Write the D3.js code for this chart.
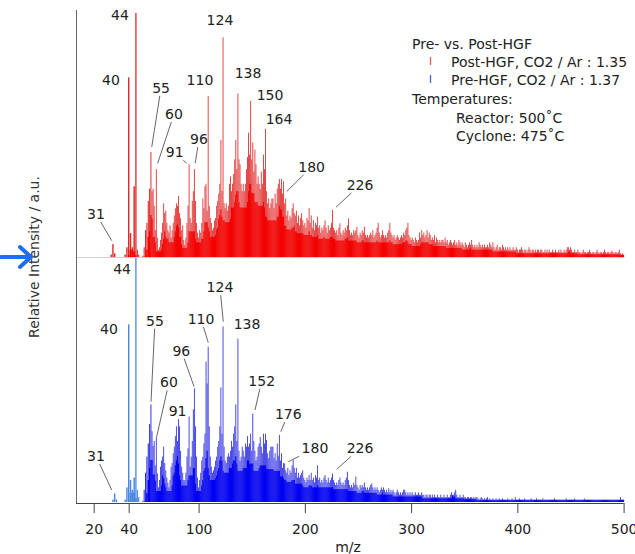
<!DOCTYPE html>
<html>
<head>
<meta charset="utf-8">
<script src="https://cdn.jsdelivr.net/npm/d3@7"></script>
<style>
  body { margin: 0; background: #fff; }
  svg { display: block; font-family: "DejaVu Sans", sans-serif; }
</style>
</head>
<body>
<div id="chart"></div>
<script>
// Post-HGF (top, red), intensity relative to m/z 44 = 100, one value per integer m/z
const postLowStart = 29;
const postLow = [0, 1, 5.3, 1.5, 0, 0, 0, 0, 0, 1, 4, 73.6, 9.8, 4, 29, 100, 3, 1, 0, 0, 0.5];
const postMidStart = 50;
const postMid = [
  4, 11, 14, 23, 28, 43, 27, 28, 21, 11, 36, 8, 3, 4, 7, 10, 14, 22, 18, 19,
  14, 11, 10, 13, 8, 11, 14, 17, 20, 22, 21, 25, 18, 16, 11, 13, 7, 5, 8, 14,
  21, 38, 16, 14, 23, 27, 36, 23, 14, 10, 8, 11, 10, 14, 24, 20, 29, 30, 19, 66,
  21, 16, 14, 11, 12, 15, 16, 21, 23, 26, 30, 48, 27, 90, 22, 20, 22, 19, 21, 30,
  33, 27, 30, 34, 40, 48, 36, 67, 40, 38, 30, 27, 30, 27, 30, 36, 41, 51, 42, 64,
  40, 47, 35, 44, 38, 30, 33, 30, 28, 35, 30, 42, 36, 52.5, 27, 22, 24, 20, 22, 24
];
const postHighStart = 170;
const postHigh = [
  24, 20, 26, 22, 28, 30, 32, 28, 32, 26, 31, 22, 24, 17, 19, 15, 17, 16, 20, 22,
  18, 17, 19, 14, 17, 13, 16, 18, 15, 13, 14, 12, 16, 15, 20, 14, 17, 12, 15, 11,
  14, 13, 16.5, 12, 13, 10, 12, 11, 13, 15, 12, 10, 13, 11, 12, 14, 19.3, 12, 11, 10,
  11, 9, 12, 13.8, 10, 9, 11, 10, 12, 11, 13, 15.8, 11, 9, 10, 9, 11, 10, 11, 12.4,
  9, 8, 10, 9, 11, 10, 12.4, 9, 8, 9, 8, 9, 10, 9, 11, 8, 9, 10, 12, 14,
  10, 8, 9, 11, 9, 8, 9, 8, 10, 11, 14, 10, 9, 8, 9, 7, 8, 9, 8, 7,
  8, 9, 8, 10, 9, 11, 12, 14, 9, 8, 7, 8, 7, 6, 8, 7, 6, 7, 10, 8,
  11, 9, 10, 8, 9, 11, 8, 10, 9, 7, 8, 7, 9, 6, 8, 7, 6, 7, 6, 7
];
const postTailStart = 330;
const postTail = [
  7, 6, 8, 6, 7, 5, 6, 7, 6, 5, 6, 7, 5, 6, 5, 7, 6, 5, 6, 5, 4, 6, 5, 4, 5, 6, 5, 7, 5, 4,
  5, 4, 5, 4, 6, 5, 4, 5, 4, 5, 4, 4, 5, 4, 6, 5, 4, 6, 4, 3, 4, 5, 3, 4, 4, 3, 5, 4, 3, 4,
  3, 4, 3, 4, 3, 3, 4, 3, 3, 4, 3, 2, 3, 3, 4, 3, 2, 3, 3, 2, 3, 4, 3, 2, 3, 3, 2, 3, 2, 3,
  3, 2, 3, 3, 2, 2, 3, 2, 3, 2, 3, 2, 2, 3, 2, 2, 3, 2, 2, 3, 2, 3, 2, 2, 3, 2, 3, 4, 4, 3,
  4, 3, 2, 2, 3, 2, 2, 3, 2, 2, 1.5, 2, 3, 2, 2, 1.5, 2, 2, 3, 2, 1.5, 2, 2, 1.5, 2, 3, 2, 1.5, 2, 2,
  1.5, 2, 3, 2, 1.5, 2, 2, 1.5, 2, 2.5, 2, 1.5, 2, 2, 1.5, 2, 3, 1.5, 1, 1.5, 1
];

// Pre-HGF (bottom, blue), same relative scale
const preLowStart = 29;
const preLow = [0, 0, 1, 3.5, 1, 0, 0, 0, 0, 1, 6, 72.8, 9, 5, 10, 110, 5, 2, 0, 0, 0.5];
const preMidStart = 50;
const preMid = [
  5, 12, 18.6, 24, 32, 40, 29, 23, 25, 15, 26.8, 11.7, 6, 9, 14.5, 17, 18.6, 22.7, 16, 13,
  10, 8, 6, 9, 14.5, 16, 20, 22.7, 27, 31, 25, 34, 31, 21, 14.5, 12, 9, 9, 12, 18.6,
  22, 35, 14.5, 18.6, 25, 38, 46.6, 31, 18.6, 10, 6, 9, 12, 17, 18.6, 24, 28, 57.5, 48.6, 63.7,
  31, 18.6, 14.5, 12, 13, 14.5, 17, 18.6, 22.7, 25, 31, 47, 28, 72, 22.7, 17, 16, 18.6, 20, 18.6,
  21, 25, 22.7, 28, 31, 40, 25, 67, 21, 17, 18.6, 22.7, 21, 18.6, 24, 22.7, 27, 22.7, 24, 28,
  21, 36.3, 25, 21, 17, 18.6, 22.7, 24, 26.6, 22.7, 20, 28, 24, 28, 25.4, 20, 18, 21, 22.7, 22.7
];
const preHighStart = 170;
const preHigh = [
  22.7, 18, 20, 17, 24, 19, 27.5, 17, 20, 14, 16, 15.8, 13, 12, 14, 11, 13, 12, 15, 17.2,
  14, 12, 14, 10, 12, 10, 11, 12, 13, 10, 9, 8, 10, 9, 11, 9, 12, 9, 10, 8,
  11, 10, 15, 9, 10, 8, 9, 8, 10, 11, 9, 8, 10, 8, 9, 10, 11.7, 9, 8, 7,
  8, 7, 9, 10, 8, 7, 8, 7, 9, 10, 12.4, 9, 7, 6, 7, 6, 8, 7, 10.4, 7,
  6, 5, 7, 6, 7, 6, 8, 6, 5, 6, 5, 6, 7, 7.6, 6, 5, 6, 5, 6, 5,
  4, 5, 6, 5, 6, 5, 4, 5, 4, 5.6, 4, 5, 4, 5, 4, 3, 4, 5, 4, 3,
  4, 3, 4, 5, 5, 4, 3, 4, 3, 4, 3, 4, 3, 3, 4, 3, 3, 4, 3, 3,
  4, 3, 3, 2, 3, 3, 2, 3, 3, 2, 3, 2, 3, 2, 2, 3, 2, 2, 3, 2
];
const preTailStart = 330;
const preTail = [
  2, 3, 2, 2, 3, 2, 2, 3, 4, 3, 3, 4, 5, 3, 2, 2, 3, 2, 2, 3, 2, 2, 1.5, 2, 2, 1.5, 2, 2, 1.5, 2,
  1.5, 2, 2, 1.5, 1, 1.5, 2, 1.5, 1, 1.5, 1, 1.5, 2, 1, 1.5, 1, 1, 1.5, 1, 1, 1.5, 1, 1, 1.5, 1, 1, 1.5, 1, 1, 1,
  1, 1.5, 1, 1, 1, 1.5, 1, 1, 2, 1, 1, 1, 1.5, 1, 1, 1, 1, 1.5, 1, 1, 1, 1, 1, 1.5, 1, 1, 1, 1, 1.5, 1,
  1, 1, 1, 1, 1.5, 1, 1, 1, 1, 1, 1, 1, 1, 1, 1, 1.5, 1, 1, 1, 1, 1, 1, 1, 1, 1, 1, 1.5, 1, 1, 1,
  1, 1, 1, 1, 1.5, 1, 1, 1, 1, 1, 1, 1, 1, 1.5, 1, 1, 1, 1, 1, 1, 1, 1, 1, 1, 1, 1, 1, 1, 1, 1,
  1, 1, 1, 1, 1, 1, 1, 1, 1, 1, 1, 1, 1, 1, 1, 1, 1, 2, 1, 1, 1
];

const xTicks = [20, 40, 100, 200, 300, 400, 500];

// peak annotations: text, label centre (m/z, intensity), leader end (m/z, intensity) or null
const postLabels = [
  ["31", 21.3, 17.6, 30.3, 6.7], ["40", 29.9, 72.5, null, null], ["44", 35.0, 99.2, null, null],
  ["55", 64.5, 69.3, 55.7, 45.1], ["60", 76.7, 58.6, 61.3, 38.4], ["91", 77.4, 43, 88.7, 38.4],
  ["96", 100.4, 48.4, 96.8, 38.4], ["110", 101.3, 72.5, null, null], ["124", 120.1, 97.1, null, null],
  ["138", 146.5, 75.6, null, null], ["150", 167.2, 66.4, null, null], ["164", 175.7, 56.6, null, null],
  ["180", 206.4, 37, 182.9, 26.8], ["226", 251.9, 29.5, 229.3, 20.4]
];
const preLabels = [
  ["31", 21.3, 18.9, 30.3, 4.9], ["40", 28.7, 71, null, null], ["44", 36.2, 95.4, null, null],
  ["55", 58.8, 74.3, 55, 41.1], ["60", 72, 49, 60.4, 26.8], ["91", 80.1, 37.3, null, null],
  ["96", 83.7, 62, 95.7, 47.3], ["110", 102.3, 75, 109.1, 65.3], ["124", 120.1, 88, 123.2, 73.9],
  ["138", 145.6, 73, null, null], ["152", 159.4, 49.7, 153.1, 37.7], ["176", 184.4, 36.1, 177.3, 28.8],
  ["180", 209.5, 22, 184.4, 16.5], ["226", 251.9, 22, 230, 13.4]
];

const legendTitle = "Pre- vs. Post-HGF";
const legendSeries = ["Post-HGF, CO2 / Ar : 1.35", "Pre-HGF, CO2 / Ar : 1.37"];
const legendNotes = ["Temperatures:", "Reactor: 500˚C", "Cyclone: 475˚C"];

const width = 635, height = 554;
const svg = d3.select("#chart").append("svg")
  .attr("width", width).attr("height", height);

// the mass axis is stretched at low m/z in the original
const x = d3.scaleLinear()
  .domain([10, 20, 40, 44, 55, 100, 500])
  .range([76.25, 93.7, 128.7, 136, 151, 198.6, 623.6]);
const yTop = d3.scaleLinear().domain([0, 100]).range([257, 13]);
const yBot = d3.scaleLinear().domain([0, 100]).range([502, 258]);

// the dark filled floor under the sticks: lowest of the 5 nearest sticks
function series(parts) {
  const out = [];
  parts.forEach(([start, vals]) => vals.forEach((v, i) => out.push({ mz: start + i, v: v })));
  out.forEach((d, i) => {
    const near = out.slice(Math.max(0, i - 2), i + 3).map(e => e.v);
    d.floor = d3.min(near) * 0.75;
  });
  return out;
}

const post = series([[postLowStart, postLow], [postMidStart, postMid], [postHighStart, postHigh], [postTailStart, postTail]]);
const pre = series([[preLowStart, preLow], [preMidStart, preMid], [preHighStart, preHigh], [preTailStart, preTail]]);

svg.append("clipPath").attr("id", "clipTop").append("rect")
  .attr("x", 76).attr("y", 0).attr("width", 560).attr("height", 257);
svg.append("clipPath").attr("id", "clipBot").append("rect")
  .attr("x", 76).attr("y", 258).attr("width", 560).attr("height", 244);

function drawBars(data, y, clip, light, solid, lowLight, lowSolid) {
  const g = svg.append("g").attr("clip-path", "url(#" + clip + ")");
  g.selectAll("rect.peak").data(data).join("rect")
    .attr("class", "peak")
    .attr("x", d => x(d.mz - 0.4))
    .attr("width", d => x(d.mz + 0.4) - x(d.mz - 0.4))
    .attr("y", d => y(d.v))
    .attr("height", d => y(0) - y(d.v))
    .attr("fill", d => d.mz < 48 ? lowLight : light);
  g.selectAll("rect.base").data(data.filter(d => d.floor > 0)).join("rect")
    .attr("class", "base")
    .attr("x", d => x(d.mz - 0.5))
    .attr("width", d => x(d.mz + 0.5) - x(d.mz - 0.5))
    .attr("y", d => y(d.floor))
    .attr("height", d => y(0) - y(d.floor))
    .attr("fill", d => d.mz < 48 ? lowSolid : solid);
}

// faint baseline of the upper trace
svg.append("line")
  .attr("x1", 76).attr("x2", x(500)).attr("y1", yTop(0) + 0.5).attr("y2", yTop(0) + 0.5)
  .attr("stroke", "#d0d0d0").attr("stroke-width", 1);

drawBars(post, yTop, "clipTop", "#e02828", "#f40000", "#e02828", "#f40000");
drawBars(pre, yBot, "clipBot", "#2e2ee4", "#0000f2", "#4a84e6", "#4a84e6");

// axes
svg.append("line")
  .attr("x1", 76.5).attr("x2", 76.5).attr("y1", 10).attr("y2", 503)
  .attr("stroke", "#666").attr("stroke-width", 1);

const xAxis = svg.append("g")
  .attr("transform", "translate(0,503)")
  .call(d3.axisBottom(x).tickValues(xTicks).tickSize(10).tickPadding(11).tickFormat(d3.format("d")));
xAxis.select(".domain").attr("d", "M76," + 0.5 + "H" + x(500)).attr("stroke", "#444");
xAxis.selectAll(".tick line").attr("stroke", "#444");
xAxis.selectAll(".tick text")
  .attr("font-size", 14).attr("font-family", "DejaVu Sans, sans-serif").attr("fill", "#222");

svg.append("text")
  .attr("x", 348).attr("y", 552)
  .attr("text-anchor", "middle").attr("font-size", 14).attr("fill", "#222")
  .text("m/z");

svg.append("text")
  .attr("transform", "translate(34,257) rotate(-90)")
  .attr("text-anchor", "middle").attr("dominant-baseline", "central")
  .attr("font-size", 14).attr("fill", "#333")
  .text("Relative Intensity / a.u.");

// peak labels with leader lines
function drawLabels(labels, y) {
  labels.forEach(([txt, lmz, lv, emz, ev]) => {
    const cx = x(lmz), cy = y(lv);
    if (emz !== null) {
      const ex = x(emz), ey = y(ev);
      const dx = ex - cx, dy = ey - cy;
      const hw = txt.length * 4.6 + 2, hh = 8;
      const t = Math.min(Math.abs(dx) > 0 ? hw / Math.abs(dx) : Infinity, Math.abs(dy) > 0 ? hh / Math.abs(dy) : Infinity);
      svg.append("line")
        .attr("x1", cx + dx * t).attr("y1", cy + dy * t)
        .attr("x2", ex).attr("y2", ey)
        .attr("stroke", "#666").attr("stroke-width", 1);
    }
    svg.append("text")
      .attr("x", cx).attr("y", cy)
      .attr("text-anchor", "middle").attr("dominant-baseline", "central")
      .attr("font-size", 14).attr("fill", "#222")
      .text(txt);
  });
}
drawLabels(postLabels, yTop);
drawLabels(preLabels, yBot);

// legend
const leg = svg.append("g").attr("font-size", 14).attr("fill", "#222");
leg.append("text").attr("x", 412).attr("y", 49).text(legendTitle);
const legColors = ["#e05a5a", "#5a5ad8"];
legendSeries.forEach((s, i) => {
  const yy = 67 + i * 18;
  leg.append("line")
    .attr("x1", 430.5).attr("x2", 430.5).attr("y1", yy - 10).attr("y2", yy - 2)
    .attr("stroke", legColors[i]).attr("stroke-width", 1.3);
  leg.append("text").attr("x", 451).attr("y", yy).text(s);
});
leg.append("text").attr("x", 412).attr("y", 104).text(legendNotes[0]);
leg.append("text").attr("x", 456).attr("y", 123).text(legendNotes[1]);
leg.append("text").attr("x", 456).attr("y", 141).text(legendNotes[2]);

// blue arrow pointing at the split between the two traces
svg.append("path")
  .attr("d", "M1,257H30M20,247L31,257L20,267")
  .attr("fill", "none").attr("stroke", "#1d6ff0").attr("stroke-width", 4)
  .attr("stroke-linecap", "round").attr("stroke-linejoin", "round");
</script>
</body>
</html>
